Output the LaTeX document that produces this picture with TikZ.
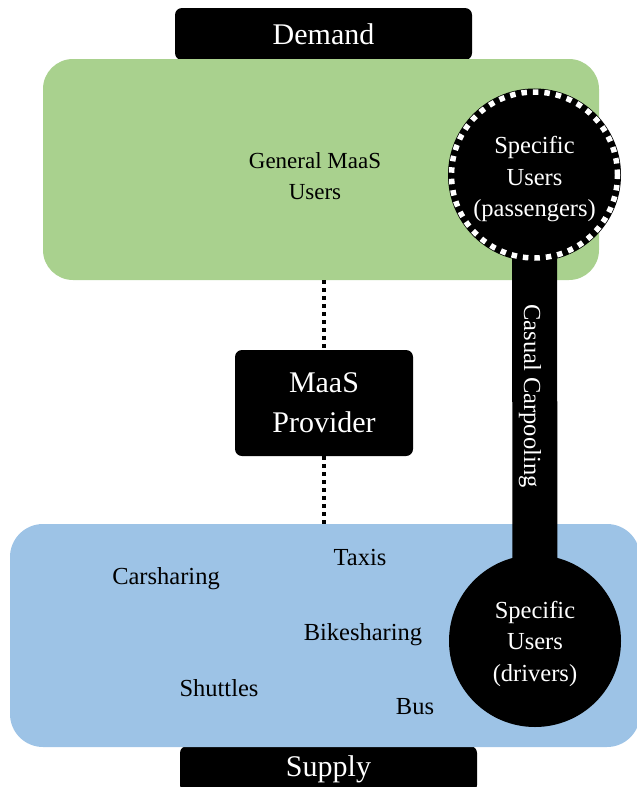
\documentclass[tikz,border=0pt]{standalone}
\usepackage{fontspec}
\setmainfont{Liberation Serif}
\definecolor{dgreen}{HTML}{A9D18E}
\definecolor{sblue}{HTML}{9DC3E6}
\begin{document}
\begin{tikzpicture}[x=1pt,y=-1pt,
  blkbox/.style={fill=black,text=white,rounded corners=7pt,inner sep=0pt},
  bigfont/.style={font=\fontsize{30}{40}\selectfont},
  midfont/.style={font=\fontsize{24.5}{31}\selectfont},
  smfont/.style={font=\fontsize{23}{31}\selectfont},
  usercirc/.style={circle,fill=black,text=white,inner sep=0pt,align=center,font=\fontsize{24.5}{31.5}\selectfont},
  dotline/.style={line width=3.5pt,dash pattern=on 3.5pt off 4.5pt}]
\useasboundingbox (0,0) rectangle (637,787);
% back boxes
\node[blkbox,bigfont,minimum width=297pt,minimum height=52pt] (demand) at (323.5,34) {Demand};
\node[blkbox,bigfont,minimum width=297pt,minimum height=46pt] (supply) at (328.5,769) {Supply};
\node[fill=dgreen,rounded corners=30pt,minimum width=556pt,minimum height=221pt,inner sep=0pt] (green) at (321,169.5) {};
\node[fill=sblue,rounded corners=33pt,minimum width=630pt,minimum height=223pt,inner sep=0pt] (blue) at (325,635.5) {};
\node[smfont,align=center] (gen) at (315,176) {General MaaS\\Users};
% supply labels
\node[midfont] (car) at (166,579) {Carsharing};
\node[midfont] (taxi) at (360,558) {Taxis};
\node[midfont] (bike) at (363,635) {Bikesharing};
\node[midfont] (shut) at (219,688) {Shuttles};
\node[midfont] (bus) at (415,707) {Bus};
% provider
\node[blkbox,bigfont,align=center,minimum width=178pt,minimum height=106pt] (maas) at (324,403) {MaaS\\Provider};
\draw[dotline] (maas.north |- green.south) -- (maas.north);
\draw[dotline] (maas.south) -- (maas.south |- blue.north);
% carpooling
\coordinate (pc) at (534.5,175);
\coordinate (dc) at (535,641);
\draw[line width=45pt] (pc) -- (dc);
\node[usercirc,draw=black,line width=7pt,minimum size=166pt] (pass) at (pc) {\rule{0pt}{26pt}Specific\\Users\\(passengers)};
\draw[white,line width=5.5pt,dash pattern=on 5.5pt off 6pt] (pass.center) circle[radius=83pt];
\node[usercirc,minimum size=172pt] (drv) at (dc) {\rule{0pt}{23pt}Specific\\Users\\(drivers)};
\node[text=white,midfont,rotate=-90] (cc) at (530,396) {Casual Carpooling};
\end{tikzpicture}
\end{document}
